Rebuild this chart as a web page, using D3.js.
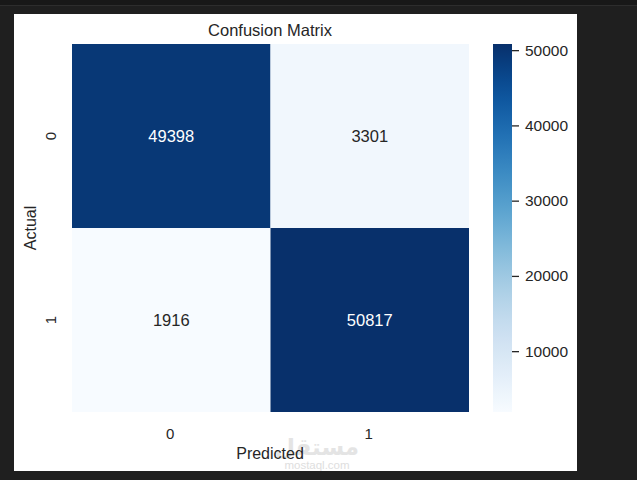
<!DOCTYPE html>
<html>
<head>
<meta charset="utf-8">
<script src="https://cdn.jsdelivr.net/npm/d3@7"></script>
<style>
  body { margin: 0; background: #1f1f1f; }
  svg { display: block; }
  text { font-family: "Liberation Sans", Arial, sans-serif; fill: #262626; }
</style>
</head>
<body>
<script>
(function(){

    //data
    var actualLabels = ["0", "1"];
    var predictedLabels = ["0", "1"];
    var row0 = [49398, 3301];
    var row1 = [1916, 50817];
    var colorTicks = [10000, 20000, 30000, 40000, 50000];

    var width = 637, height = 480;

    var svg = d3.select("body").append("svg")
        .attr("width", width)
        .attr("height", height);

    //dark surroundings
    svg.append("rect").attr("width", width).attr("height", height).attr("fill", "#1f1f1f");
    svg.append("rect").attr("width", width).attr("height", 5).attr("fill", "#181818");
    svg.append("rect").attr("y", 5).attr("width", width).attr("height", 1).attr("fill", "#2d2d2d");

    //white figure
    svg.append("rect")
        .attr("x", 14).attr("y", 14)
        .attr("width", 563).attr("height", 457)
        .attr("fill", "#ffffff");

    //build cells
    var cells = [];
    [row0, row1].forEach(function(row, i){
        row.forEach(function(v, j){
            cells.push({ actual: actualLabels[i], predicted: predictedLabels[j], value: v });
        });
    });

    var allVals = row0.concat(row1);
    var vmin = d3.min(allVals), vmax = d3.max(allVals);

    var x = d3.scaleBand().domain(predictedLabels).range([72, 469]);
    var y = d3.scaleBand().domain(actualLabels).range([44, 412]);

    var color = d3.scaleSequential(d3.interpolateBlues).domain([vmin, vmax]);

    svg.selectAll(".cell")
        .data(cells)
        .enter()
        .append("rect")
        .attr("class", "cell")
        .attr("x", function(d){ return x(d.predicted); })
        .attr("y", function(d){ return y(d.actual); })
        .attr("width", x.bandwidth())
        .attr("height", y.bandwidth())
        .attr("fill", function(d){ return color(d.value); });

    svg.selectAll(".annot")
        .data(cells)
        .enter()
        .append("text")
        .attr("class", "annot")
        .attr("x", function(d){ return x(d.predicted) + x.bandwidth() / 2; })
        .attr("y", function(d){ return y(d.actual) + y.bandwidth() / 2; })
        .attr("text-anchor", "middle")
        .attr("dominant-baseline", "central")
        .style("font-size", "16.5px")
        .style("fill", function(d){
            return (d.value - vmin) / (vmax - vmin) > 0.5 ? "#ffffff" : "#262626";
        })
        .text(function(d){ return d.value; });

    //x axis labels
    svg.selectAll(".xtick")
        .data(predictedLabels)
        .enter()
        .append("text")
        .attr("x", function(d){ return x(d) + x.bandwidth() / 2 - 1; })
        .attr("y", 433)
        .attr("text-anchor", "middle")
        .attr("dominant-baseline", "central")
        .style("font-size", "15px")
        .text(function(d){ return d; });

    //y axis labels, rotated
    svg.selectAll(".ytick")
        .data(actualLabels)
        .enter()
        .append("text")
        .attr("transform", function(d){
            return "translate(50," + (y(d) + y.bandwidth() / 2) + ") rotate(-90)";
        })
        .attr("text-anchor", "middle")
        .attr("dominant-baseline", "central")
        .style("font-size", "15px")
        .text(function(d){ return d; });

    //watermark
    svg.append("text")
        .attr("x", 317).attr("y", 447)
        .attr("text-anchor", "middle")
        .attr("dominant-baseline", "central")
        .style("font-family", "'DejaVu Sans', sans-serif")
        .style("font-size", "23px")
        .style("font-weight", "bold")
        .style("fill", "#e4e4e4")
        .text("مستقل");
    svg.append("text")
        .attr("x", 317).attr("y", 465)
        .attr("text-anchor", "middle")
        .attr("dominant-baseline", "central")
        .style("font-size", "11.5px")
        .style("fill", "#dedede")
        .text("mostaql.com");

    //axis titles
    svg.append("text")
        .attr("x", 270).attr("y", 453)
        .attr("text-anchor", "middle")
        .attr("dominant-baseline", "central")
        .style("font-size", "16px")
        .text("Predicted");

    svg.append("text")
        .attr("transform", "translate(30,228) rotate(-90)")
        .attr("text-anchor", "middle")
        .attr("dominant-baseline", "central")
        .style("font-size", "16px")
        .text("Actual");

    svg.append("text")
        .attr("x", 270).attr("y", 30)
        .attr("text-anchor", "middle")
        .attr("dominant-baseline", "central")
        .style("font-size", "16.5px")
        .text("Confusion Matrix");

    //colorbar
    var cbScale = d3.scaleLinear().domain([vmin, vmax]).range([412, 44]);

    var grad = svg.append("defs").append("linearGradient")
        .attr("id", "cbgrad")
        .attr("x1", 0).attr("y1", 1).attr("x2", 0).attr("y2", 0);
    d3.range(0, 1.0001, 0.05).forEach(function(t){
        grad.append("stop")
            .attr("offset", t)
            .attr("stop-color", color(vmin + t * (vmax - vmin)));
    });

    svg.append("rect")
        .attr("x", 493).attr("y", 44)
        .attr("width", 19).attr("height", 368)
        .attr("fill", "url(#cbgrad)");

    var cbAxis = svg.append("g")
        .attr("transform", "translate(512,0)")
        .call(d3.axisRight(cbScale).tickValues(colorTicks).tickSize(7).tickPadding(6).tickFormat(d3.format("d")));
    cbAxis.select(".domain").remove();
    cbAxis.selectAll("line").attr("stroke", "#262626").attr("stroke-width", 1.3);
    cbAxis.selectAll("text")
        .style("font-size", "15.5px")
        .style("font-family", "'Liberation Sans', Arial, sans-serif")
        .attr("fill", "#262626");

})();
</script>
</body>
</html>
